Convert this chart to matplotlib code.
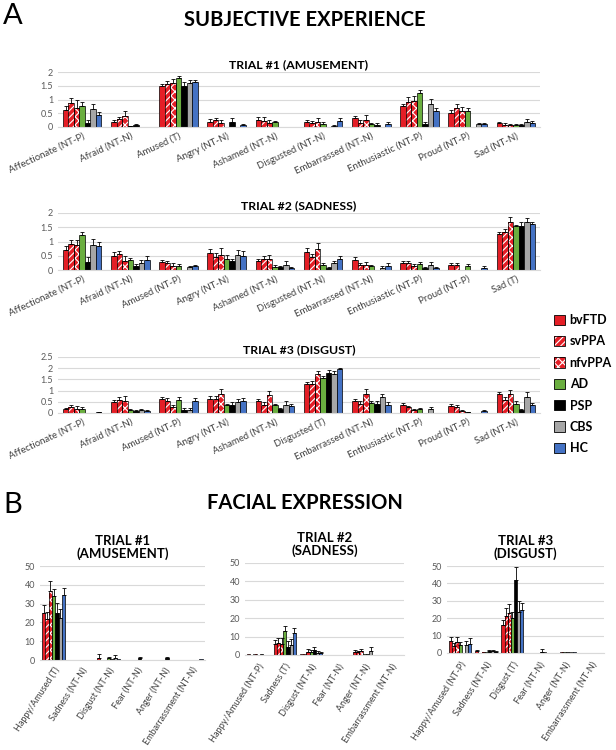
import numpy as np
import matplotlib.pyplot as plt
from matplotlib.patches import Patch

plt.rcParams['font.family'] = ['Lato', 'DejaVu Sans']
plt.rcParams['hatch.linewidth'] = 0.8

groups = ['bvFTD', 'svPPA', 'nfvPPA', 'AD', 'PSP', 'CBS', 'HC']
colors = ['#E41E26', '#E41E26', '#E41E26', '#6AAE3F', '#000000', '#A6A6A6', '#4472C4']
hatches = [None, '/////', 'xxxx', None, None, None, None]

# subjective experience categories
subj_cats = ['Affectionate (NT-P)', 'Afraid (NT-N)', 'Amused (T)', 'Angry (NT-N)', 'Ashamed (NT-N)',
             'Disgusted (NT-N)', 'Embarrassed (NT-N)', 'Enthusiastic (NT-P)', 'Proud (NT-P)', 'Sad (NT-N)']
subj_cats2 = subj_cats[:2] + ['Amused (NT-P)'] + subj_cats[3:9] + ['Sad (T)']
subj_cats3 = subj_cats[:2] + ['Amused (NT-P)'] + subj_cats[3:5] + ['Disgusted (T)'] + subj_cats[6:9] + ['Sad (NT-N)']

# trial 1 (amusement), rows = groups
t1_vals = [[0.63, 0.18, 1.48, 0.20, 0.25, 0.20, 0.34, 0.75, 0.52, 0.14],
           [0.88, 0.28, 1.55, 0.24, 0.23, 0.15, 0.16, 0.92, 0.70, 0.08],
           [0.70, 0.39, 1.60, 0.14, 0.14, 0.20, 0.27, 0.93, 0.58, 0.06],
           [0.75, 0.02, 1.78, 0.00, 0.17, 0.12, 0.11, 1.24, 0.60, 0.08],
           [0.15, 0.07, 1.49, 0.20, 0.00, 0.00, 0.08, 0.12, 0.00, 0.07],
           [0.64, 0.00, 1.60, 0.00, 0.00, 0.05, 0.00, 0.82, 0.10, 0.18],
           [0.45, 0.00, 1.62, 0.06, 0.00, 0.22, 0.12, 0.58, 0.10, 0.14]]
t1_errs = [[0.12, 0.08, 0.10, 0.08, 0.10, 0.07, 0.07, 0.10, 0.10, 0.06],
           [0.17, 0.10, 0.12, 0.10, 0.12, 0.08, 0.08, 0.16, 0.15, 0.05],
           [0.27, 0.20, 0.15, 0.10, 0.10, 0.12, 0.15, 0.20, 0.15, 0.04],
           [0.16, 0.02, 0.06, 0.00, 0.06, 0.07, 0.04, 0.12, 0.10, 0.04],
           [0.12, 0.05, 0.15, 0.12, 0.00, 0.00, 0.05, 0.07, 0.00, 0.04],
           [0.20, 0.00, 0.12, 0.00, 0.00, 0.04, 0.00, 0.19, 0.06, 0.12],
           [0.10, 0.00, 0.08, 0.05, 0.00, 0.10, 0.08, 0.12, 0.06, 0.08]]

# trial 2 (sadness)
t2_vals = [[0.70, 0.50, 0.27, 0.61, 0.33, 0.64, 0.35, 0.23, 0.18, 1.27],
           [0.90, 0.55, 0.23, 0.47, 0.40, 0.47, 0.19, 0.23, 0.19, 1.33],
           [0.86, 0.33, 0.14, 0.54, 0.40, 0.73, 0.19, 0.14, 0.00, 1.69],
           [1.22, 0.35, 0.14, 0.40, 0.12, 0.16, 0.13, 0.20, 0.14, 1.53],
           [0.29, 0.15, 0.00, 0.30, 0.09, 0.08, 0.00, 0.08, 0.00, 1.55],
           [0.88, 0.23, 0.09, 0.54, 0.19, 0.23, 0.08, 0.16, 0.00, 1.68],
           [0.85, 0.35, 0.14, 0.50, 0.08, 0.38, 0.15, 0.06, 0.08, 1.60]]
t2_errs = [[0.15, 0.12, 0.08, 0.13, 0.07, 0.13, 0.10, 0.08, 0.07, 0.08],
           [0.15, 0.10, 0.10, 0.12, 0.10, 0.10, 0.06, 0.08, 0.07, 0.10],
           [0.20, 0.15, 0.12, 0.22, 0.12, 0.22, 0.08, 0.07, 0.00, 0.17],
           [0.13, 0.08, 0.06, 0.12, 0.05, 0.07, 0.06, 0.07, 0.06, 0.06],
           [0.17, 0.06, 0.00, 0.10, 0.04, 0.04, 0.00, 0.03, 0.00, 0.15],
           [0.20, 0.12, 0.05, 0.17, 0.13, 0.10, 0.05, 0.12, 0.00, 0.15],
           [0.15, 0.14, 0.05, 0.15, 0.03, 0.10, 0.08, 0.03, 0.05, 0.10]]

# trial 3 (disgust)
t3_vals = [[0.18, 0.49, 0.61, 0.61, 0.52, 1.28, 0.52, 0.37, 0.31, 0.87],
           [0.27, 0.60, 0.54, 0.64, 0.37, 1.31, 0.42, 0.27, 0.27, 0.60],
           [0.20, 0.54, 0.27, 0.87, 0.79, 1.72, 0.85, 0.15, 0.09, 0.84],
           [0.18, 0.15, 0.60, 0.37, 0.34, 1.57, 0.46, 0.19, 0.03, 0.42],
           [0.00, 0.09, 0.15, 0.37, 0.16, 1.79, 0.42, 0.00, 0.00, 0.12],
           [0.00, 0.12, 0.15, 0.49, 0.37, 1.76, 0.72, 0.19, 0.00, 0.72],
           [0.04, 0.09, 0.54, 0.55, 0.30, 1.97, 0.37, 0.00, 0.09, 0.34]]
t3_errs = [[0.05, 0.10, 0.10, 0.13, 0.10, 0.10, 0.10, 0.08, 0.07, 0.08],
           [0.10, 0.12, 0.12, 0.12, 0.12, 0.13, 0.10, 0.06, 0.07, 0.10],
           [0.12, 0.20, 0.10, 0.20, 0.20, 0.15, 0.22, 0.05, 0.04, 0.18],
           [0.07, 0.03, 0.10, 0.05, 0.07, 0.08, 0.07, 0.04, 0.02, 0.10],
           [0.00, 0.05, 0.06, 0.10, 0.05, 0.12, 0.10, 0.00, 0.00, 0.05],
           [0.00, 0.06, 0.06, 0.15, 0.15, 0.10, 0.15, 0.06, 0.00, 0.20],
           [0.02, 0.04, 0.15, 0.12, 0.10, 0.04, 0.10, 0.00, 0.04, 0.10]]

# facial expression
face_cats1 = ['Happy/Amused (T)', 'Sadness (NT-N)', 'Disgust (NT-N)', 'Fear (NT-N)', 'Anger (NT-N)', 'Embarrassment (NT-N)']
face_cats2 = ['Happy/Amused (NT-P)', 'Sadness (T)', 'Disgust (NT-N)', 'Fear (NT-N)', 'Anger (NT-N)', 'Embarrassment (NT-N)']
face_cats3 = ['Happy/Amused (NT-P)', 'Sadness (NT-N)', 'Disgust (T)', 'Fear (NT-N)', 'Anger (NT-N)', 'Embarrassment (NT-N)']

f1_vals = [[24.8, 0.0, 1.2, 0.0, 0.0, 0.0],
           [21.6, 0.0, 0.0, 0.0, 0.0, 0.0],
           [36.5, 0.0, 0.0, 0.0, 0.0, 0.0],
           [34.0, 0.0, 0.8, 0.0, 0.0, 0.0],
           [24.8, 0.0, 0.3, 0.8, 0.8, 0.0],
           [22.2, 0.2, 1.2, 0.0, 0.2, 0.2],
           [34.6, 0.0, 0.3, 0.0, 0.0, 0.3]]
f1_errs = [[4.4, 0.0, 2.0, 0.0, 0.0, 0.0],
           [4.0, 0.0, 0.0, 0.0, 0.0, 0.0],
           [5.7, 0.0, 0.0, 0.0, 0.0, 0.0],
           [4.0, 0.0, 1.0, 0.0, 0.0, 0.0],
           [5.7, 0.0, 0.0, 1.0, 1.0, 0.0],
           [4.8, 0.0, 1.5, 0.0, 0.0, 0.0],
           [3.5, 0.0, 0.0, 0.0, 0.0, 0.0]]

f2_vals = [[0.3, 6.0, 0.3, 0.0, 1.8, 0.0],
           [0.0, 6.4, 0.3, 0.0, 1.5, 0.0],
           [0.3, 6.0, 1.5, 0.0, 2.0, 0.0],
           [0.0, 13.3, 1.8, 0.0, 0.5, 0.0],
           [0.3, 4.5, 2.5, 0.0, 0.5, 0.0],
           [0.0, 5.5, 1.2, 0.0, 2.0, 0.0],
           [0.2, 11.8, 1.0, 0.0, 0.0, 0.0]]
f2_errs = [[0.0, 2.0, 0.0, 0.0, 1.0, 0.0],
           [0.0, 3.0, 0.0, 0.0, 0.8, 0.0],
           [0.0, 3.0, 1.5, 0.0, 1.5, 0.0],
           [0.0, 2.5, 1.0, 0.0, 0.0, 0.0],
           [0.0, 3.0, 2.0, 0.0, 0.0, 0.0],
           [0.0, 3.0, 1.0, 0.0, 2.5, 0.0],
           [0.0, 3.0, 0.5, 0.0, 0.0, 0.0]]

f3_vals = [[6.9, 1.0, 16.0, 0.0, 0.0, 0.2],
           [3.8, 0.0, 21.0, 0.0, 0.2, 0.2],
           [6.3, 0.3, 23.0, 0.0, 0.3, 0.2],
           [4.6, 0.5, 20.4, 0.0, 0.3, 0.2],
           [0.0, 1.0, 42.0, 0.8, 0.3, 0.2],
           [4.8, 1.0, 23.6, 0.3, 0.3, 0.2],
           [5.4, 0.8, 24.6, 0.0, 0.3, 0.2]]
f3_errs = [[2.5, 1.0, 3.0, 0.0, 0.0, 0.0],
           [2.0, 0.0, 5.0, 0.0, 0.0, 0.0],
           [3.0, 0.0, 5.0, 0.0, 0.0, 0.0],
           [2.0, 0.0, 3.0, 0.0, 0.0, 0.0],
           [0.0, 1.0, 7.5, 1.5, 0.0, 0.0],
           [2.0, 1.0, 6.0, 0.0, 0.0, 0.0],
           [3.0, 0.5, 4.0, 0.0, 0.0, 0.0]]


def draw_bars(ax, cats, vals, errs, ymax, ystep, rot, gw=0.8, xfs=6.5, xpad=3):
    n = len(cats)
    x = np.arange(n)
    w = gw / len(groups)
    for g in range(len(groups)):
        v = np.array(vals[g])
        e = np.array(errs[g])
        xs = x - gw / 2 + w * (g + 0.5)
        m = v > 0
        if hatches[g]:
            ax.bar(xs[m], v[m], w, color=colors[g], edgecolor='white', hatch=hatches[g], linewidth=0, zorder=2)
            ax.bar(xs[m], v[m], w, fill=False, edgecolor='black', linewidth=0.5, zorder=3)
        else:
            ax.bar(xs[m], v[m], w, color=colors[g], edgecolor='black', linewidth=0.5, zorder=2)
        me = m & (e > 0)
        ax.errorbar(xs[me], v[me], yerr=[np.zeros(me.sum()), e[me]], fmt='none', ecolor='black',
                    elinewidth=0.6, capsize=1.4, capthick=0.6, zorder=4)
    ax.set_xlim(-0.5, n - 0.5)
    ax.set_ylim(0, ymax)
    ax.set_yticks(np.arange(0, ymax + ystep / 2, ystep))
    ax.yaxis.grid(True, color='#D9D9D9', linewidth=0.8, zorder=0)
    ax.set_axisbelow(True)
    for s in ['top', 'right', 'left']:
        ax.spines[s].set_visible(False)
    ax.spines['bottom'].set_color('#D9D9D9')
    ax.tick_params(length=0, colors='#595959', labelsize=6.5)
    ax.tick_params(axis='x', pad=xpad)
    ax.set_xticks(x)
    ax.set_xticklabels(cats, rotation=rot, ha='right', rotation_mode='anchor', fontsize=xfs, color='#404040')


fig = plt.figure(figsize=(6.16, 7.5), dpi=100)
W, H = 616, 750


def add_ax(x0, y0, x1, y1):
    return fig.add_axes([x0 / W, 1 - y1 / H, (x1 - x0) / W, (y1 - y0) / H])


fig.text(3 / W, 1 - 16 / H, 'A', fontsize=21, va='center', ha='left')
fig.text(305 / W, 1 - 20 / H, 'SUBJECTIVE EXPERIENCE', fontsize=14.5, fontweight='bold', ha='center', va='center')

ax1 = add_ax(58, 72, 540, 127)
draw_bars(ax1, subj_cats, t1_vals, t1_errs, 2, 0.5, 25, xfs=6.9)
ax1.set_yticklabels(['0', '0.5', '1', '1.5', '2'])
ax1.set_title('TRIAL #1 (AMUSEMENT)', fontsize=8.8, fontweight='bold', pad=3)

ax2 = add_ax(58, 213, 540, 270)
draw_bars(ax2, subj_cats2, t2_vals, t2_errs, 2, 0.5, 25, xfs=6.9)
ax2.set_yticklabels(['0', '0.5', '1', '1.5', '2'])
ax2.set_title('TRIAL #2 (SADNESS)', fontsize=8.8, fontweight='bold', pad=3)

ax3 = add_ax(58, 357, 540, 413)
draw_bars(ax3, subj_cats3, t3_vals, t3_errs, 2.5, 0.5, 25, xfs=6.9)
ax3.set_yticklabels(['0', '0.5', '1', '1.5', '2', '2.5'])
ax3.set_title('TRIAL #3 (DISGUST)', fontsize=8.8, fontweight='bold', pad=3)

# legend
handles = []
for g in range(len(groups)):
    if hatches[g]:
        handles.append((Patch(facecolor=colors[g], edgecolor='white', hatch=hatches[g], linewidth=0),
                        Patch(fill=False, edgecolor='black', linewidth=0.6)))
    else:
        handles.append(Patch(facecolor=colors[g], edgecolor='black', linewidth=0.6))
fig.legend(handles, groups, loc='upper left', bbox_to_anchor=(554 / W, 1 - 314 / H), frameon=False,
           prop={'weight': 'bold', 'size': 9}, handlelength=0.9, handleheight=0.9,
           handletextpad=0.35, labelspacing=0.75, borderpad=0, borderaxespad=0)

fig.text(3 / W, 1 - 505 / H, 'B', fontsize=21, va='center', ha='left')
fig.text(305 / W, 1 - 503 / H, 'FACIAL EXPRESSION', fontsize=14.5, fontweight='bold', ha='center', va='center')

bx1 = add_ax(40, 566, 205, 660)
draw_bars(bx1, face_cats1, f1_vals, f1_errs, 50, 10, 57, gw=0.84, xfs=6.5, xpad=4)
bx1.set_title('TRIAL #1\n(AMUSEMENT)', fontsize=9.5, fontweight='bold', pad=6, linespacing=1.0)

bx2 = add_ax(245, 563, 404, 655)
draw_bars(bx2, face_cats2, f2_vals, f2_errs, 50, 10, 57, gw=0.84, xfs=6.6, xpad=5)
bx2.set_title('TRIAL #2\n(SADNESS)', fontsize=9.5, fontweight='bold', pad=6, linespacing=1.0)

bx3 = add_ax(447, 566, 604, 653)
draw_bars(bx3, face_cats3, f3_vals, f3_errs, 50, 10, 57, gw=0.84, xfs=6.6, xpad=5)
bx3.set_title('TRIAL #3\n(DISGUST)', fontsize=9.5, fontweight='bold', pad=6, linespacing=1.0)

plt.savefig('out.png', dpi=100)
